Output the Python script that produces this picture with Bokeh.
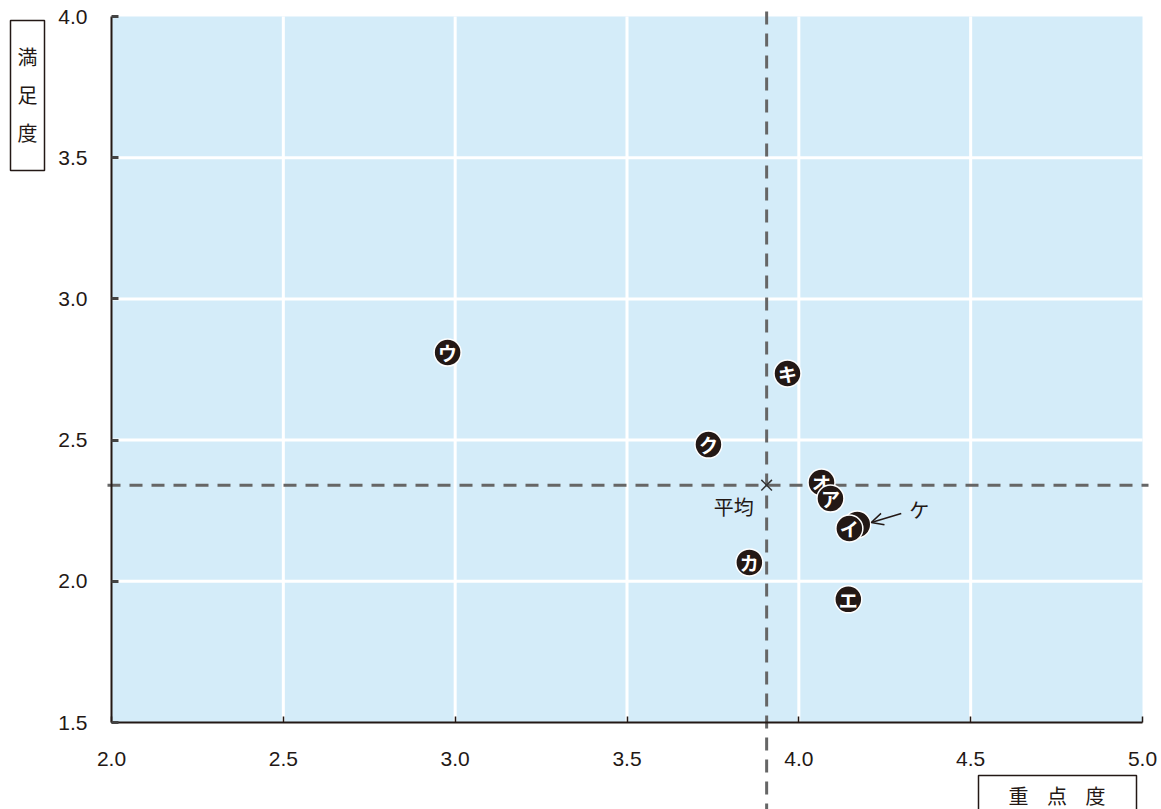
import numpy as np
from bokeh.plotting import figure
from bokeh.models import Range1d, LinearAxis, FixedTicker, NumeralTickFormatter, Arrow, OpenHead
from bokeh.core.properties import value
from bokeh.embed import file_html
from bokeh.resources import INLINE

# ---------------- data ----------------
labels = ["ア", "イ", "ウ", "エ", "オ", "カ", "キ", "ク", "ケ"]
importance = [4.092, 4.147, 2.978, 4.144, 4.066, 3.856, 3.967, 3.737, 4.170]
satisfaction = [2.293, 2.187, 2.810, 1.936, 2.350, 2.067, 2.736, 2.484, 2.201]
x_tick_labels = ["2.0", "2.5", "3.0", "3.5", "4.0", "4.5", "5.0"]
y_tick_labels = ["1.5", "2.0", "2.5", "3.0", "3.5", "4.0"]
x_title = ["重", "点", "度"]
y_title = ["満", "足", "度"]
mean_label = "平均"
callout_label = "ケ"

x_ticks = [float(s) for s in x_tick_labels]
y_ticks = [float(s) for s in y_tick_labels]

# ---------------- layout ----------------
W, H = 1161, 809
DARK = "#231815"
BLUE = "#d4ecf9"
CJK = value("Noto Sans CJK JP")

# pixel geometry of the plotting box (picture coords)
PX_L, PX_R = 111, 1142
PY_T, PY_B = 16, 722
SX = (PX_R - PX_L) / (x_ticks[-1] - x_ticks[0])
SY = (PY_B - PY_T) / (y_ticks[-1] - y_ticks[0])
XS = x_ticks[0] - PX_L / SX
XE = XS + W / SX
YE = y_ticks[-1] + PY_T / SY
YS = YE - H / SY


def X(px):
    return XS + px / SX


def Y(py):
    return YE - py / SY


p = figure(width=W, height=H, x_range=Range1d(XS, XE), y_range=Range1d(YS, YE),
           x_axis_type=None, y_axis_type=None, output_backend="svg",
           toolbar_location=None, min_border=0, outline_line_color=None,
           background_fill_color="white", border_fill_color="white")

# background box
p.quad(left=[x_ticks[0]], right=[x_ticks[-1]], bottom=[y_ticks[0]], top=[y_ticks[-1]],
       fill_color=BLUE, line_color=None)

# grid lines
gx = x_ticks[1:-1]
gy = y_ticks[1:-1]
p.segment(x0=gx, y0=[y_ticks[0]] * len(gx), x1=gx, y1=[y_ticks[-1]] * len(gx),
          line_color="white", line_width=3)
p.segment(x0=[x_ticks[0]] * len(gy), y0=gy, x1=[x_ticks[-1]] * len(gy), y1=gy,
          line_color="white", line_width=3)

# mean lines
mx = float(np.mean(importance))
my = float(np.mean(satisfaction))
p.segment(x0=[X(107)], y0=[my], x1=[X(1148)], y1=[my],
          line_color="#666666", line_width=3, line_dash="13 9")
p.segment(x0=[mx], y0=[Y(11)], x1=[mx], y1=[YS],
          line_color="#666666", line_width=3, line_dash="13 9")
p.scatter([mx], [my], marker="x", size=15, line_color="#333333", line_width=1.5)
p.text(x=[mx], y=[my], text=[mean_label], x_offset=-33, y_offset=21,
       text_font=CJK, text_font_size="20px", text_color=DARK,
       text_align="center", text_baseline="middle")

# points (reverse order so earlier ones sit on top)
for i in reversed(range(len(labels))):
    p.scatter([importance[i]], [satisfaction[i]], marker="circle", size=27,
              fill_color=DARK, line_color="white", line_width=1.5)
    if labels[i] != callout_label:
        p.text(x=[importance[i]], y=[satisfaction[i]], text=[labels[i]],
               text_font=CJK, text_font_style="bold", text_font_size="19px",
               text_color="white", text_align="center", text_baseline="middle")

# call-out for the hidden point
k = labels.index(callout_label)
kx, ky = importance[k], satisfaction[k]
p.text(x=[kx], y=[ky], text=[callout_label], x_offset=62, y_offset=-15,
       text_font=CJK, text_font_size="20px", text_color=DARK,
       text_align="center", text_baseline="middle")
p.add_layout(Arrow(end=OpenHead(size=12, line_width=1.5, line_color=DARK),
                   x_start=kx + 44 / SX, y_start=ky + 11 / SY,
                   x_end=kx + 14 / SX, y_end=ky + 2 / SY,
                   line_width=1.5, line_color=DARK))

# axes
yaxis = LinearAxis(fixed_location=x_ticks[0], bounds=(y_ticks[0], y_ticks[-1]),
                   ticker=FixedTicker(ticks=y_ticks),
                   formatter=NumeralTickFormatter(format="0.0"))
xaxis = LinearAxis(fixed_location=y_ticks[0], bounds=(x_ticks[0], x_ticks[-1]),
                   ticker=FixedTicker(ticks=x_ticks),
                   formatter=NumeralTickFormatter(format="0.0"))
for ax in (yaxis, xaxis):
    ax.axis_line_color = DARK
    ax.axis_line_width = 2
    ax.major_tick_out = 0
    ax.minor_tick_line_color = None
    ax.major_label_text_font = "Liberation Sans"
    ax.major_label_text_font_size = "21px"
    ax.major_label_text_color = DARK
yaxis.major_tick_in = 7
yaxis.major_tick_line_width = 3
yaxis.major_tick_line_color = "#444444"
yaxis.major_label_standoff = 24
xaxis.major_tick_in = 6
xaxis.major_tick_line_width = 1.5
xaxis.major_tick_line_color = DARK
xaxis.major_label_standoff = 29
p.add_layout(yaxis, "left")
p.add_layout(xaxis, "below")

# axis titles in boxes
p.quad(left=[X(10)], right=[X(44)], top=[Y(20)], bottom=[Y(170)],
       fill_color="white", line_color=DARK, line_width=1.5)
p.text(x=[X(27)] * len(y_title), y=[Y(56 + 38 * i) for i in range(len(y_title))],
       text=y_title, text_font=CJK, text_font_size="20px", text_color=DARK,
       text_align="center", text_baseline="middle")
p.quad(left=[X(978)], right=[X(1136)], top=[Y(775)], bottom=[Y(840)],
       fill_color="white", line_color=DARK, line_width=1.5)
p.text(x=[X(1018 + 38.5 * i) for i in range(len(x_title))], y=[Y(795)] * len(x_title),
       text=x_title, text_font=CJK, text_font_size="20px", text_color=DARK,
       text_align="center", text_baseline="middle")

open("out.html", "w").write(file_html(p, INLINE))
